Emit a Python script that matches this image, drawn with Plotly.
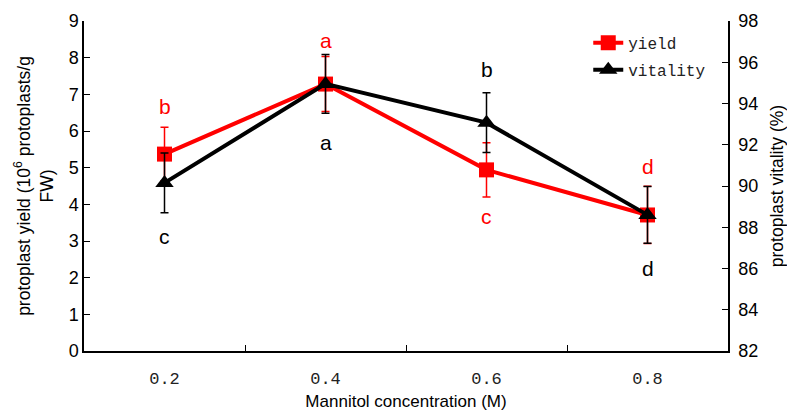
import plotly.graph_objects as go

categories = ["0.2", "0.4", "0.6", "0.8"]
yield_vals = [5.37, 7.28, 4.94, 3.71]
yield_err = [0.73, 0.75, 0.74, 0.78]
vitality_vals = [90.15, 94.95, 93.07, 88.6]
vitality_err = [1.45, 1.42, 1.45, 1.38]

yield_letters = ["b", "a", "c", "d"]
yield_letter_y = [6.68, 8.48, 3.68, 5.04]
vitality_letters = ["c", "a", "b", "d"]
vitality_letter_y = [3.11, 5.70, 7.69, 2.24]

RED = "#ff0000"
BLACK = "#000000"
SANS = "Liberation Sans, Arial, sans-serif"
MONO = "Liberation Mono, monospace"

fig = go.Figure()
fig.add_trace(go.Scatter(
    x=categories, y=yield_vals, name="yield", mode="lines+markers",
    legendgroup="g1",
    line=dict(color=RED, width=4),
    marker=dict(symbol="square", size=15, color=RED),
    error_y=dict(type="data", array=yield_err, color=RED, thickness=1.5, width=4),
    yaxis="y",
))
fig.add_trace(go.Scatter(
    x=categories, y=vitality_vals, name="vitality", mode="lines+markers",
    legendgroup="g2",
    line=dict(color=BLACK, width=4),
    marker=dict(symbol="triangle-up", size=16, color=BLACK),
    error_y=dict(type="data", array=vitality_err, color=BLACK, thickness=1.5, width=4),
    yaxis="y2",
))

annotations = []
for i, (t, y) in enumerate(zip(yield_letters, yield_letter_y)):
    annotations.append(dict(x=i, y=y, xref="x", yref="y", text=t, showarrow=False,
                            font=dict(family=SANS, size=21, color=RED)))
for i, (t, y) in enumerate(zip(vitality_letters, vitality_letter_y)):
    annotations.append(dict(x=i, y=y, xref="x", yref="y", text=t, showarrow=False,
                            font=dict(family=SANS, size=21, color=BLACK)))

# page body has an 8px margin: size the figure so it fits the 795x419 window
fig.update_layout(
    width=779, height=403,
    margin=dict(l=76, r=59, t=13, b=60),
    plot_bgcolor="white", paper_bgcolor="white",
    showlegend=True,
    legend=dict(x=0.783, y=0.985, xanchor="left", yanchor="top",
                font=dict(family=MONO, size=16, color="#222"),
                bgcolor="rgba(0,0,0,0)", tracegroupgap=3),
    xaxis=dict(
        type="category", categoryorder="array", categoryarray=categories,
        showline=True, linecolor="black", linewidth=1.5, mirror=False,
        ticks="inside", tickson="boundaries", ticklen=6, tickcolor="black",
        tickfont=dict(family=MONO, size=17, color="#222"),
        ticklabelstandoff=11, automargin=False,
        showgrid=False, zeroline=False,
        title=dict(text="Mannitol concentration (M)",
                   font=dict(family=SANS, size=17, color="black"), standoff=23),
        range=[-0.5, 3.5],
    ),
    yaxis=dict(
        range=[0, 9], dtick=1, showline=True, linecolor="black", linewidth=1.5,
        ticks="inside", ticklen=6, tickcolor="black",
        tickfont=dict(family=SANS, size=18, color="black"),
        showgrid=False, zeroline=False, automargin=False,
        title=dict(text="protoplast yield (10<sup>6</sup> protoplasts/g<br>FW)",
                   font=dict(family=SANS, size=17.5, color="black"), standoff=11),
    ),
    yaxis2=dict(
        range=[82, 98], dtick=2, overlaying="y", side="right",
        showline=True, linecolor="black", linewidth=1.5,
        ticks="inside", ticklen=6, tickcolor="black",
        tickfont=dict(family=SANS, size=18, color="black"),
        ticklabelstandoff=5,
        showgrid=False, zeroline=False, automargin=False,
        title=dict(text="protoplast vitality (%)",
                   font=dict(family=SANS, size=17.5, color="black"), standoff=30),
    ),
    annotations=annotations,
)

fig.write_html("out.html")
